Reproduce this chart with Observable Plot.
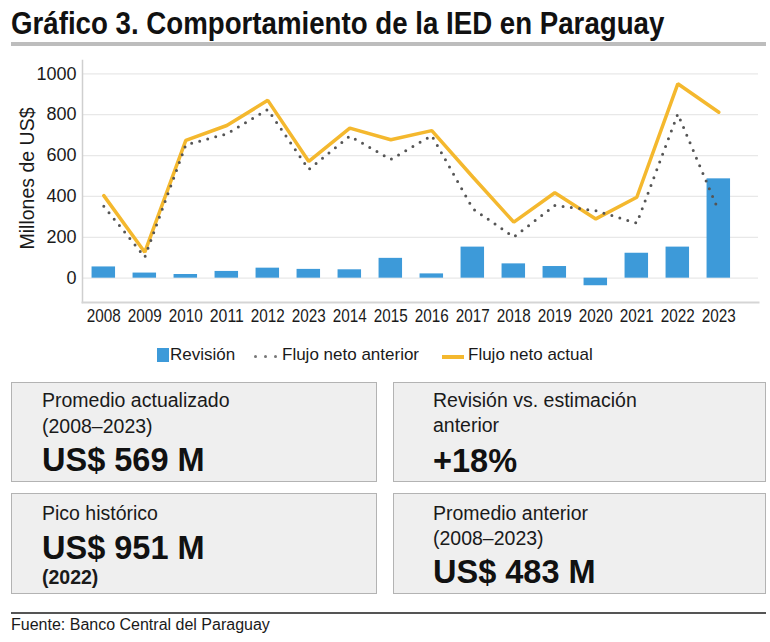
<!DOCTYPE html>
<html>
<head>
<meta charset="utf-8">
<script src="https://cdn.jsdelivr.net/npm/d3@7"></script>
<script src="https://cdn.jsdelivr.net/npm/@observablehq/plot@0.6"></script>
<style>
  html, body { margin: 0; padding: 0; background: #fff; }
  #page { position: relative; width: 770px; height: 642px; overflow: hidden; font-family: "Liberation Sans", Arial, sans-serif; color: #1a1a1a; }
  .abs { position: absolute; white-space: nowrap; }
  #title { left: 11px; top: 6px; font-weight: bold; font-size: 30.5px; line-height: 34px; color: #111; transform: scaleX(0.907); transform-origin: 0 0; }
  #titleRule { left: 11px; top: 42px; width: 755px; height: 4px; background: #bdbdbd; }
  #chart { left: 0; top: 50px; }
  .box { position: absolute; background: #efefef; border: 1.5px solid #b3b3b3; box-sizing: border-box; }
  .lbl { position: absolute; font-size: 19.5px; line-height: 24px; white-space: nowrap; color: #1a1a1a; }
  .big { position: absolute; font-size: 32.5px; line-height: 36px; font-weight: bold; white-space: nowrap; color: #111; }
  .leg { position: absolute; font-size: 17px; line-height: 20px; top: 345px; white-space: nowrap; }
  #bottomRule { left: 11px; top: 612px; width: 755px; height: 1.5px; background: #555; }
  #source { left: 11px; top: 615px; font-size: 16px; line-height: 20px; }
</style>
</head>
<body>
<div id="page">
  <div id="title" class="abs">Gráfico 3. Comportamiento de la IED en Paraguay</div>
  <div id="titleRule" class="abs"></div>
  <div id="chart" class="abs"></div>

  <div class="abs" style="left:157px;top:348px;width:12px;height:14px;background:#3d9ad9;"></div>
  <div class="leg" style="left:170px;">Revisión</div>
  <div class="abs" style="left:254px;top:355px;width:3px;height:3px;border-radius:50%;background:#777;"></div>
  <div class="abs" style="left:264px;top:355px;width:3px;height:3px;border-radius:50%;background:#777;"></div>
  <div class="abs" style="left:274px;top:355px;width:3px;height:3px;border-radius:50%;background:#777;"></div>
  <div class="leg" style="left:282px;">Flujo neto anterior</div>
  <div class="abs" style="left:442px;top:355px;width:22px;height:4px;background:#f4b82e;"></div>
  <div class="leg" style="left:468px;">Flujo neto actual</div>

  <div class="box" style="left:11px;top:382px;width:366px;height:100px;"></div>
  <div class="box" style="left:393px;top:382px;width:373px;height:100px;"></div>
  <div class="box" style="left:11px;top:493px;width:366px;height:101px;"></div>
  <div class="box" style="left:393px;top:493px;width:373px;height:101px;"></div>

  <div class="lbl" style="left:42px;top:388px;">Promedio actualizado</div>
  <div class="lbl" style="left:42px;top:414px;">(2008–2023)</div>
  <div class="big" style="left:42px;top:442px;">US$ 569 M</div>

  <div class="lbl" style="left:433px;top:388px;">Revisión vs. estimación</div>
  <div class="lbl" style="left:433px;top:413px;">anterior</div>
  <div class="big" style="left:433px;top:443px;">+18%</div>

  <div class="lbl" style="left:42px;top:501px;">Pico histórico</div>
  <div class="big" style="left:42px;top:530px;">US$ 951 M</div>
  <div class="lbl" style="left:42px;top:565px;font-weight:bold;">(2022)</div>

  <div class="lbl" style="left:433px;top:501px;">Promedio anterior</div>
  <div class="lbl" style="left:433px;top:526px;">(2008–2023)</div>
  <div class="big" style="left:433px;top:554px;">US$ 483 M</div>

  <div id="bottomRule" class="abs"></div>
  <div id="source" class="abs">Fuente: Banco Central del Paraguay</div>
</div>
<script>
// ---- Data ----
const years = [2008, 2009, 2010, 2011, 2012, 2013, 2014, 2015, 2016, 2017, 2018, 2019, 2020, 2021, 2022, 2023];
// tick labels exactly as printed in the original (note the "2023" printed for 2013)
const tickLabels = ["2008", "2009", "2010", "2011", "2012", "2023", "2014", "2015", "2016", "2017", "2018", "2019", "2020", "2021", "2022", "2023"];
const revision = [55, 25, 18, 33, 49, 43, 41, 97, 21, 152, 70, 57, -37, 122, 152, 486];
const flujoAnterior = [352, 103, 652, 706, 825, 532, 695, 581, 698, 340, 201, 356, 330, 269, 804, 328];
const flujoActual = [404, 127, 674, 747, 870, 571, 734, 677, 722, 495, 274, 418, 290, 396, 951, 812];
const yTicks = [0, 200, 400, 600, 800, 1000];
const yLabel = "Millones de US$";

const data = years.map((year, i) => ({
  year,
  revision: revision[i],
  anterior: flujoAnterior[i],
  actual: flujoActual[i]
}));

const regular = '"Liberation Sans", Arial, sans-serif';

const chart = Plot.plot({
  width: 770,
  height: 285,
  marginTop: 10,
  marginBottom: 33,
  marginLeft: 82,
  marginRight: 12,
  style: { fontFamily: regular, color: "#1a1a1a", background: "transparent" },
  x: { type: "band", domain: years, range: [82, 739.6], paddingInner: 0.427, paddingOuter: 0.233, round: false },
  y: { domain: [-119, 1065] },
  marks: [
    Plot.ruleY(yTicks, { stroke: "#e8e8e8", strokeWidth: 1.2 }),
    Plot.frame({ anchor: "left", stroke: "#cfcfcf", strokeWidth: 1.5 }),
    Plot.frame({ anchor: "bottom", stroke: "#d5d5d5", strokeWidth: 2 }),
    Plot.barY(data, { x: "year", y: "revision", fill: "#3d9ad9" }),
    Plot.line(data, { x: "year", y: "actual", stroke: "#f4b82e", strokeWidth: 3.5, strokeLinejoin: "miter" }),
    Plot.line(data, { x: "year", y: "anterior", stroke: "#555", strokeWidth: 3, strokeDasharray: "0 8.3", strokeLinecap: "round" }),
    Plot.axisY({ ticks: yTicks, tickSize: 0, tickPadding: 6, fontSize: 18, label: null, tickFormat: d3.format("d") }),
    Plot.axisX({ tickSize: 0, tickPadding: 6, fontSize: 19, label: null,
                 tickFormat: d => tickLabels[years.indexOf(d)] }),
    Plot.text([yLabel], { frameAnchor: "left", textAnchor: "middle", rotate: -90, dx: -55, dy: -3, fontSize: 19.5, fill: "#1a1a1a", text: d => d })
  ]
});
// condensed look of the year labels, as in the original typeface
d3.select(chart).selectAll('g[aria-label="x-axis tick label"] text')
  .attr("textLength", 34).attr("lengthAdjust", "spacingAndGlyphs");
document.getElementById("chart").appendChild(chart);
</script>
</body>
</html>
